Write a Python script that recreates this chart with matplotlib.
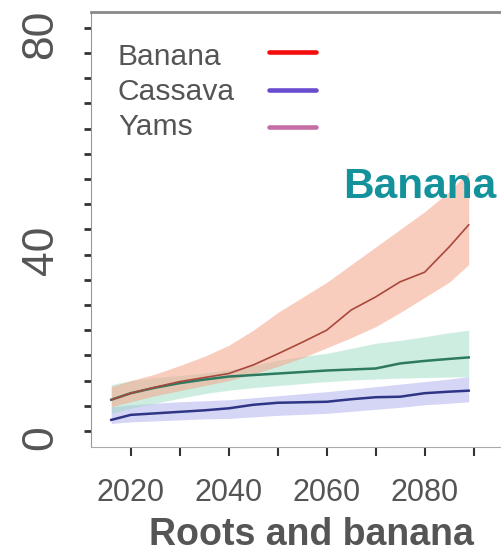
import numpy as np
import matplotlib.pyplot as plt
from matplotlib.transforms import ScaledTranslation

plt.rcParams['font.family'] = ['Liberation Sans', 'DejaVu Sans']

years = [2016, 2020, 2025, 2030, 2035, 2040, 2045, 2050,
         2055, 2060, 2065, 2070, 2075, 2080, 2085, 2089]

banana_mid = [6.2, 7.5, 8.7, 9.8, 10.6, 11.4, 13.1, 15.3,
              17.6, 20.0, 24.0, 26.6, 29.6, 31.5, 36.5, 40.9]
banana_hi = [8.8, 10.0, 11.3, 13.0, 14.8, 17.0, 20.0, 23.5,
             26.5, 29.5, 33.0, 36.5, 40.0, 43.5, 47.5, 51.5]
banana_lo = [4.8, 5.8, 7.0, 8.0, 9.0, 10.0, 11.3, 12.8,
             14.5, 16.5, 18.5, 20.7, 23.5, 26.5, 29.5, 33.0]

teal_mid = [6.2, 7.5, 8.6, 9.5, 10.2, 10.8, 11.1, 11.4,
            11.7, 12.0, 12.2, 12.4, 13.4, 13.9, 14.3, 14.6]
teal_hi = [9.2, 10.0, 10.6, 11.0, 11.5, 12.1, 13.0, 14.0,
           14.8, 15.4, 16.4, 17.4, 18.0, 18.7, 19.5, 20.0]
teal_lo = [3.5, 4.5, 5.5, 6.5, 7.4, 8.1, 8.6, 9.0,
           9.4, 9.8, 10.1, 10.3, 10.5, 10.6, 10.7, 10.8]

blue_mid = [2.2, 3.2, 3.5, 3.8, 4.1, 4.5, 5.2, 5.6,
            5.7, 5.8, 6.3, 6.7, 6.8, 7.5, 7.8, 8.0]
blue_hi = [4.8, 5.2, 5.5, 5.8, 6.0, 6.2, 6.6, 7.0,
           7.4, 7.8, 8.3, 8.8, 9.3, 9.8, 10.3, 10.8]
blue_lo = [1.5, 1.8, 2.0, 2.2, 2.4, 2.5, 2.8, 3.1,
           3.3, 3.5, 3.9, 4.3, 4.7, 5.2, 5.5, 5.8]

legend_names = ['Banana', 'Cassava', 'Yams']
legend_colors = ['#f50d0d', '#6a4ccf', '#c56fa6']

x_ticks = np.arange(2020, 2091, 10)
x_labels = ['2020', '', '2040', '', '2060', '', '2080', '']
y_ticks = np.arange(0, 81, 5)
y_labels = ['0' if v == 0 else '40' if v == 40 else '80' if v == 80 else '' for v in y_ticks]

fig = plt.figure(figsize=(5.01, 5.52), dpi=100)
ax = fig.add_axes([0.181, 0.190, 0.819, 0.788])

ax.fill_between(years, blue_lo, blue_hi, color='#b3b3ee', alpha=0.55, lw=0)
ax.fill_between(years, teal_lo, teal_hi, color='#9fdcc4', alpha=0.5, lw=0)
ax.fill_between(years, banana_lo, banana_hi, color='#f5a58a', alpha=0.55, lw=0)
ax.plot(years, blue_mid, color='#2f3585', lw=1.8)
ax.plot(years, teal_mid, color='#2d7a60', lw=1.8)
ax.plot(years, banana_mid, color='#a8483c', lw=1.2)

ax.set_xlim(2011.8, 2095.6)
ax.set_ylim(-3.2, 83.1)

ax.set_xticks(x_ticks)
ax.set_xticklabels(x_labels)
ax.set_yticks(y_ticks)
ax.set_yticklabels(y_labels, rotation=90, va='center')
ax.tick_params(axis='x', length=6.5, width=1.5, color='#333333', pad=16,
               labelsize=22, labelcolor='#555555')
ax.tick_params(axis='y', length=5, width=2, color='#333333', pad=16,
               labelsize=32, labelcolor='#555555')

# y labels sit a little below their ticks
for lab in ax.get_yticklabels():
    shift = 21 if lab.get_text() == '40' else 7
    lab.set_transform(lab.get_transform() + ScaledTranslation(0, -shift / 100, fig.dpi_scale_trans))

ax.spines['right'].set_visible(False)
ax.spines['top'].set_color('#8a8a8a')
ax.spines['top'].set_linewidth(2)
ax.spines['left'].set_color('#999999')
ax.spines['bottom'].set_color('#aaaaaa')

# hand-made legend: names on the left, colour bars on the right
for i, (name, col) in enumerate(zip(legend_names, legend_colors)):
    yb = (447 - (65 + 35 * i)) / 435
    yl = (447 - (52 + 37.5 * i)) / 435
    ax.text((118 - 90.7) / 410.3, yb, name, transform=ax.transAxes,
            fontsize=21.6, color='#555555', va='baseline', ha='left')
    ax.plot([(269 - 90.7) / 410.3, (316 - 90.7) / 410.3], [yl, yl],
            transform=ax.transAxes, color=col, lw=3.3,
            solid_capstyle='round', clip_on=False)

ax.text((420 - 90.7) / 410.3, (447 - 198) / 435, 'Banana', transform=ax.transAxes,
        fontsize=30.5, fontweight='bold', color='#13929c', ha='center', va='baseline')

fig.text(311 / 501, (552 - 545) / 552, 'Roots and banana', fontsize=27,
         fontweight='bold', color='#555555', ha='center', va='baseline')

fig.savefig('out.png', dpi=100)
